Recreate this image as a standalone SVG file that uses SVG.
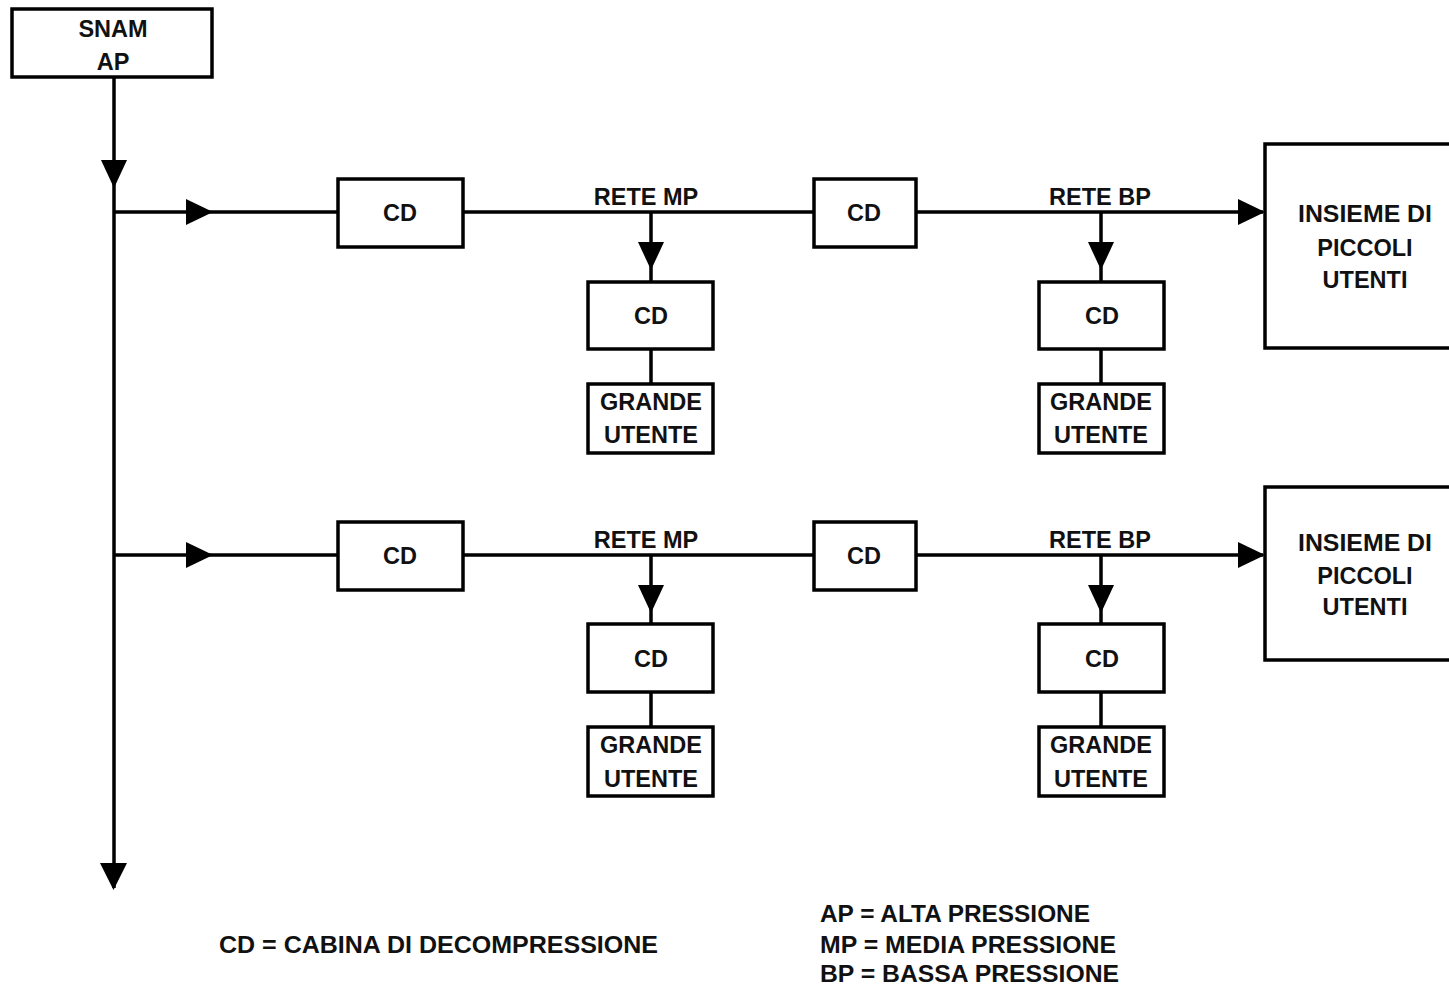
<svg xmlns="http://www.w3.org/2000/svg" width="1449" height="991" viewBox="0 0 1449 991">
<style>
.box{fill:#fff;stroke:#000;stroke-width:3.5}
.ln{fill:none;stroke:#000;stroke-width:3.5}
.ah{fill:#000;stroke:none}
text{font-family:"Liberation Sans",Arial,sans-serif;font-weight:bold;font-size:23.5px;fill:#111;text-anchor:middle}
.lg{text-anchor:start}
</style>
<rect width="1449" height="991" fill="#fff"/>
<g id="connectors">
<path class="ln" d="M114 77V888"/>
<path class="ah" d="M101 160H127L114 188Z"/>
<path class="ah" d="M100 863H127L113.5 890Z"/>
<path class="ln" d="M114 212H338M463 212H813M916 212H1263"/>
<path class="ah" d="M186 199V225L213 212Z"/>
<path class="ah" d="M1238 199V225L1265 212Z"/>
<path class="ln" d="M651 212V282M651 349V383M1101 212V282M1101 349V383"/>
<path class="ah" d="M638 242H664L651 270Z"/>
<path class="ah" d="M1088 242H1114L1101 270Z"/>
<path class="ln" d="M114 555H338M463 555H813M916 555H1263"/>
<path class="ah" d="M186 542V568L213 555Z"/>
<path class="ah" d="M1238 542V568L1265 555Z"/>
<path class="ln" d="M651 555V623M651 692V727M1101 555V623M1101 692V727"/>
<path class="ah" d="M638 585H664L651 613Z"/>
<path class="ah" d="M1088 585H1114L1101 613Z"/>
</g>
<g id="snam"><rect class="box" x="12" y="9" width="200" height="68"/><text x="113" y="37">SNAM</text><text x="113" y="70">AP</text></g>
<g id="cd1a"><rect class="box" x="338" y="179" width="125" height="68"/><text x="400" y="221">CD</text></g>
<text id="retemp1" x="646" y="205">RETE MP</text>
<g id="cd1b"><rect class="box" x="814" y="179" width="102" height="68"/><text x="864" y="221">CD</text></g>
<text id="retebp1" x="1100" y="205">RETE BP</text>
<g id="cd1c"><rect class="box" x="588" y="282" width="125" height="67"/><text x="651" y="324">CD</text></g>
<g id="gu1c"><rect class="box" x="588" y="384" width="125" height="69"/><text x="651" y="410">GRANDE</text><text x="651" y="443">UTENTE</text></g>
<g id="cd1d"><rect class="box" x="1039" y="282" width="125" height="67"/><text x="1102" y="324">CD</text></g>
<g id="gu1d"><rect class="box" x="1039" y="384" width="125" height="69"/><text x="1101" y="410">GRANDE</text><text x="1101" y="443">UTENTE</text></g>
<g id="ins1"><rect class="box" x="1265" y="144" width="190" height="204"/><text x="1365" y="222" textLength="134" lengthAdjust="spacingAndGlyphs">INSIEME DI</text><text x="1365" y="256">PICCOLI</text><text x="1365" y="288">UTENTI</text></g>
<g id="cd2a"><rect class="box" x="338" y="522" width="125" height="68"/><text x="400" y="564">CD</text></g>
<text id="retemp2" x="646" y="548">RETE MP</text>
<g id="cd2b"><rect class="box" x="814" y="522" width="102" height="68"/><text x="864" y="564">CD</text></g>
<text id="retebp2" x="1100" y="548">RETE BP</text>
<g id="cd2c"><rect class="box" x="588" y="624" width="125" height="68"/><text x="651" y="667">CD</text></g>
<g id="gu2c"><rect class="box" x="588" y="727" width="125" height="69"/><text x="651" y="753">GRANDE</text><text x="651" y="787">UTENTE</text></g>
<g id="cd2d"><rect class="box" x="1039" y="624" width="125" height="68"/><text x="1102" y="667">CD</text></g>
<g id="gu2d"><rect class="box" x="1039" y="727" width="125" height="69"/><text x="1101" y="753">GRANDE</text><text x="1101" y="787">UTENTE</text></g>
<g id="ins2"><rect class="box" x="1265" y="487" width="190" height="173"/><text x="1365" y="551" textLength="134" lengthAdjust="spacingAndGlyphs">INSIEME DI</text><text x="1365" y="584">PICCOLI</text><text x="1365" y="615">UTENTI</text></g>
<g id="legend">
<text class="lg" x="219" y="953" textLength="439" lengthAdjust="spacingAndGlyphs">CD = CABINA DI DECOMPRESSIONE</text>
<text class="lg" x="820" y="922" textLength="270" lengthAdjust="spacingAndGlyphs">AP = ALTA PRESSIONE</text>
<text class="lg" x="820" y="953" textLength="296" lengthAdjust="spacingAndGlyphs">MP = MEDIA PRESSIONE</text>
<text class="lg" x="820" y="982" textLength="299" lengthAdjust="spacingAndGlyphs">BP = BASSA PRESSIONE</text>
</g>
</svg>
